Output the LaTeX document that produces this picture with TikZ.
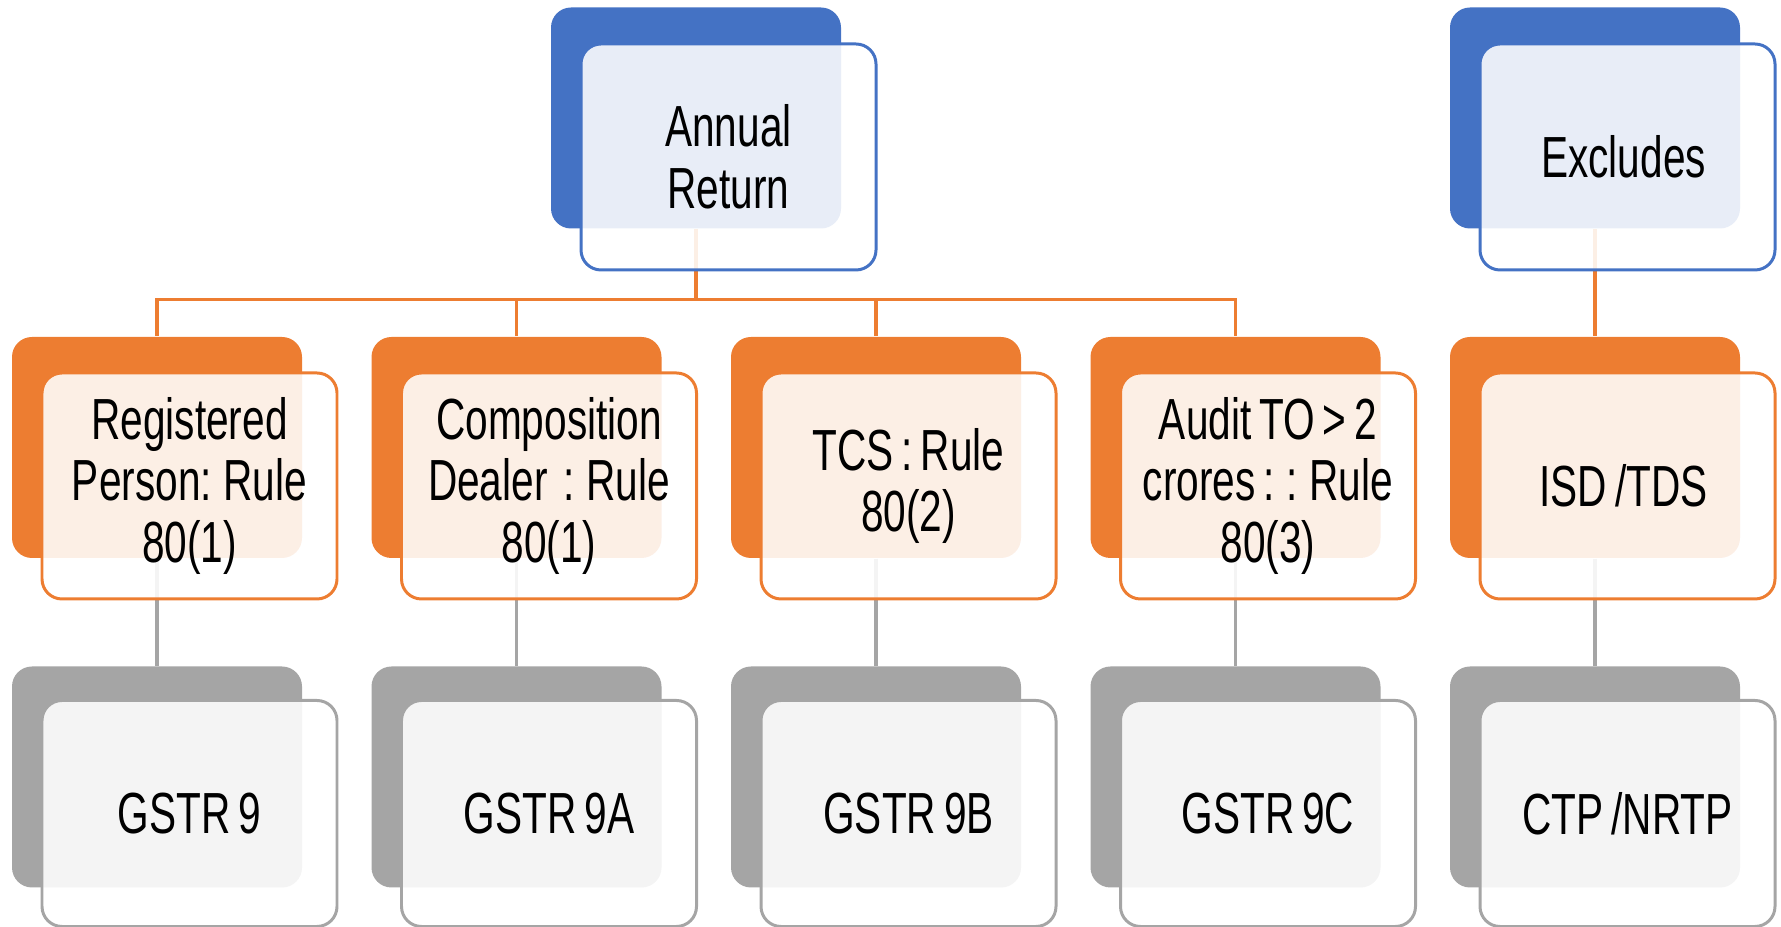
\documentclass[tikz,border=0pt]{standalone}
\usepackage{fontspec}
\setmainfont{Liberation Sans}[FakeStretch=0.7,WordSpace=0.7]
\usepackage{tikz}

\definecolor{accblue}{HTML}{4472C4}
\definecolor{accorange}{HTML}{ED7D31}
\definecolor{accgrey}{HTML}{A5A5A5}

\begin{document}
\begin{tikzpicture}[
  back/.style={
      rectangle,
      rounded corners=0.2cm,
      minimum width=2.9cm,
      minimum height=2.21cm,
      inner sep=0pt
  },
  front/.style={
      rectangle,
      draw,
      rounded corners=0.2cm,
      line width=0.85pt,
      minimum width=2.95cm,
      minimum height=2.26cm,
      inner sep=0pt,
      align=center,
      text=black,
      fill=white,
      fill opacity=0.88,
      text opacity=1,
      font=\fontsize{16.5}{17.6}\selectfont
  },
  bluebox/.style={back, fill=accblue},
  orangebox/.style={back, fill=accorange},
  greybox/.style={back, fill=accgrey},
  bluefront/.style={front, draw=accblue},
  orangefront/.style={front, draw=accorange},
  greyfront/.style={front, draw=accgrey},
  oline/.style={draw=accorange, line width=0.9pt},
  gline/.style={draw=accgrey, line width=0.9pt}
]

\useasboundingbox (0,0) rectangle (17.81,9.27);

% ==================================================
% Back plates
% ==================================================

\node[bluebox] (annback) at (6.96,8.09) {};
\node[bluebox] (excback) at (15.95,8.09) {};

\node[orangebox] (regback) at (1.57,4.795) {};
\node[orangebox] (compback) at (5.165,4.795) {};
\node[orangebox] (tcsback) at (8.76,4.795) {};
\node[orangebox] (auditback) at (12.355,4.795) {};
\node[orangebox] (isdback) at (15.95,4.795) {};

\node[greybox] (g9back) at (1.57,1.50) {};
\node[greybox] (g9aback) at (5.165,1.50) {};
\node[greybox] (g9bback) at (8.76,1.50) {};
\node[greybox] (g9cback) at (12.355,1.50) {};
\node[greybox] (ctpback) at (15.95,1.50) {};

% ==================================================
% Connections (behind the front cards)
% ==================================================

\draw[oline]
(annback.south)
-- ++(0,-0.705)
-| (regback.north);

\draw[oline]
(annback.south)
-- ++(0,-0.705)
-| (compback.north);

\draw[oline]
(annback.south)
-- ++(0,-0.705)
-| (tcsback.north);

\draw[oline]
(annback.south)
-- ++(0,-0.705)
-| (auditback.north);

\draw[oline]
(excback.south)
-- (isdback.north);

\draw[gline] (regback.south) -- (g9back.north);
\draw[gline] (compback.south) -- (g9aback.north);
\draw[gline] (tcsback.south) -- (g9bback.north);
\draw[gline] (auditback.south) -- (g9cback.north);
\draw[gline] (isdback.south) -- (ctpback.north);

% ==================================================
% Top row
% ==================================================

\node[bluefront] (ann) at (7.285,7.70)
{
Annual\\
Return
};

\node[bluefront] (exc) at (16.275,7.70)
{
Excludes
};

% ==================================================
% Middle row
% ==================================================

\node[orangefront] (reg) at (1.895,4.41)
{
Registered\\
Person: Rule\\
80(1)
};

\node[orangefront] (comp) at (5.49,4.41)
{
Composition\\
Dealer~~: Rule\\
80(1)
};

\node[orangefront] (tcs) at (9.085,4.41)
{
TCS : Rule\\
80(2)
};

\node[orangefront] (audit) at (12.68,4.41)
{
Audit TO > 2\\
crores : : Rule\\
80(3)
};

\node[orangefront] (isd) at (16.275,4.41)
{
ISD /TDS
};

% ==================================================
% Bottom row
% ==================================================

\node[greyfront] (g9) at (1.895,1.135) {GSTR 9};
\node[greyfront] (g9a) at (5.49,1.135) {GSTR 9A};
\node[greyfront] (g9b) at (9.085,1.135) {GSTR 9B};
\node[greyfront] (g9c) at (12.68,1.135) {GSTR 9C};
\node[greyfront] (ctp) at (16.275,1.135) {CTP /NRTP};

\end{tikzpicture}
\end{document}
